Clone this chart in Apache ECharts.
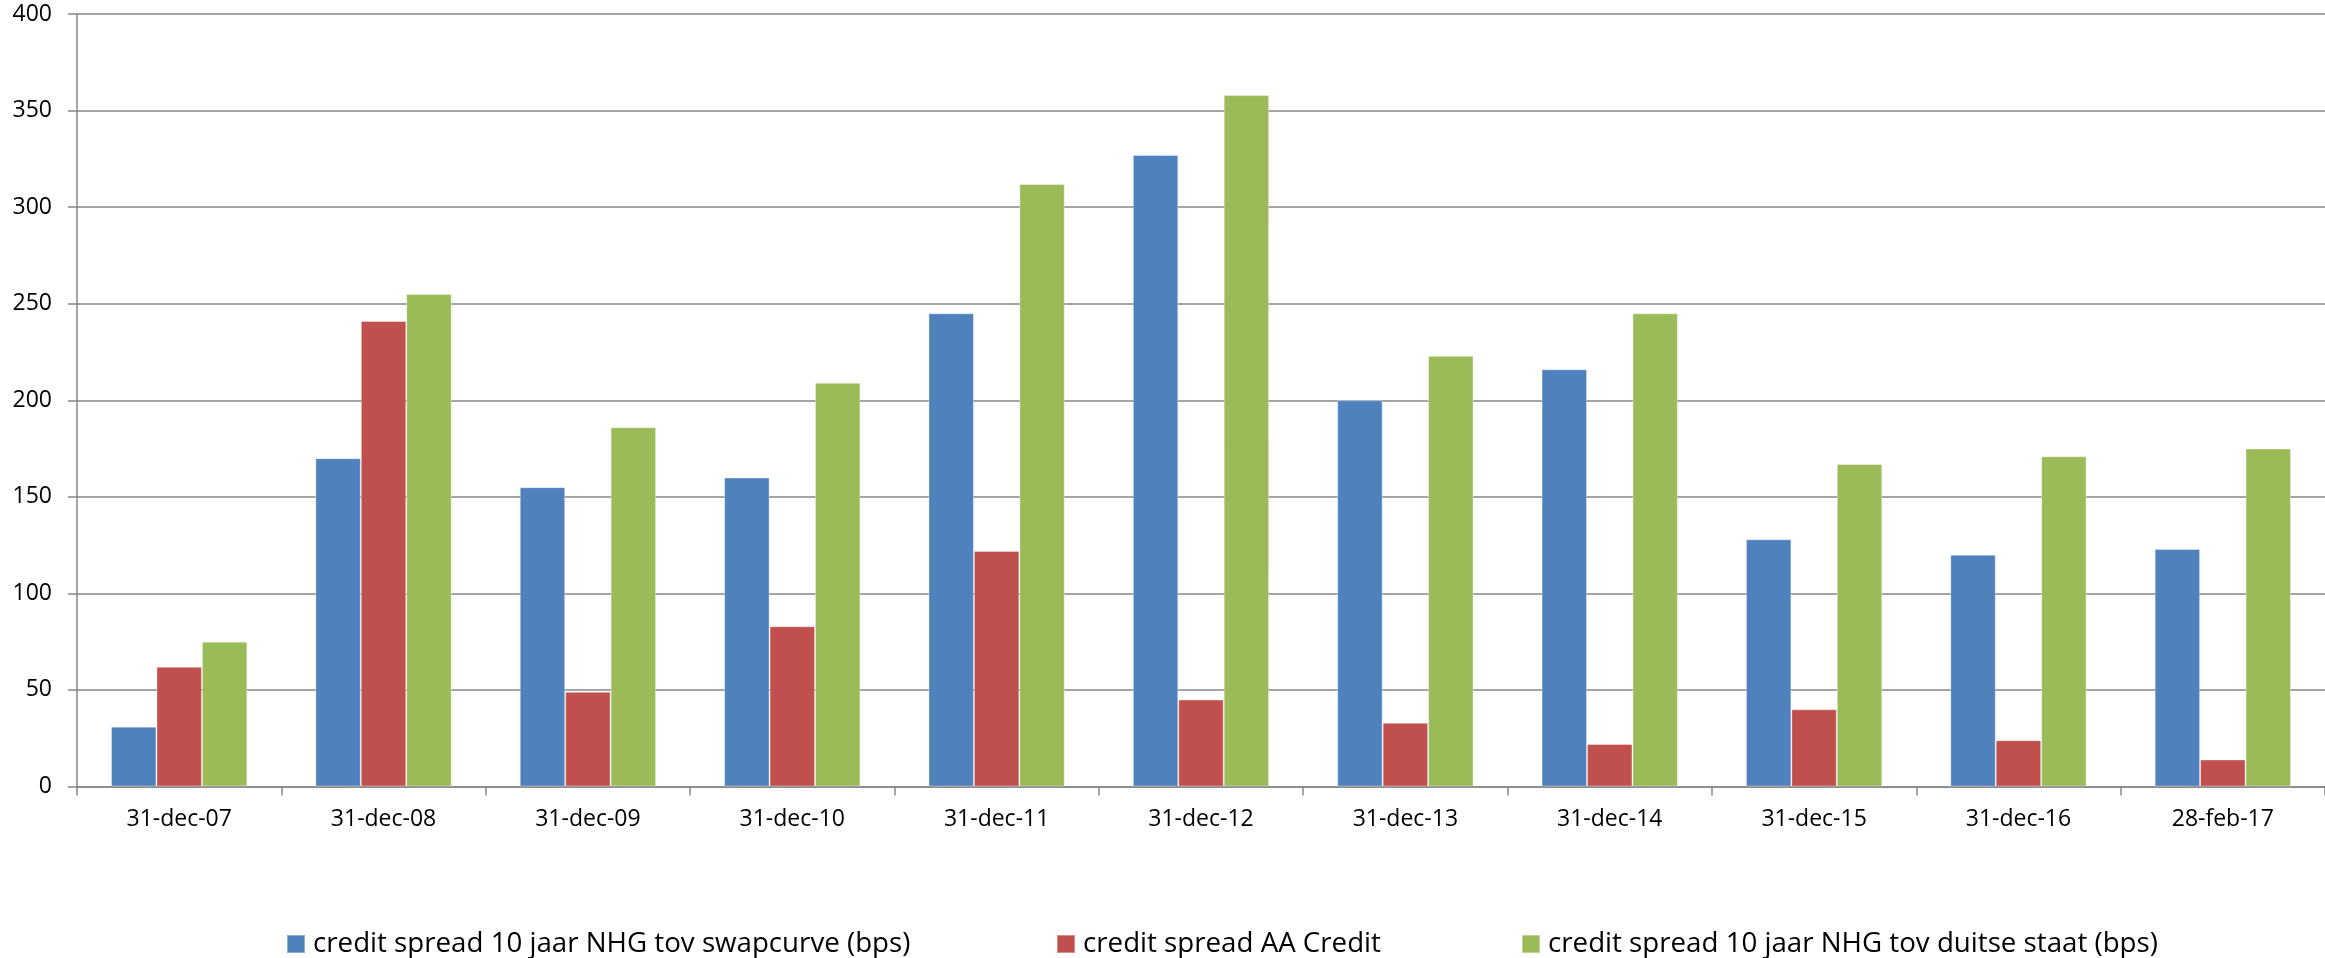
<!DOCTYPE html>
<html>
<head>
<meta charset="utf-8">
<title>Credit spreads</title>
<script src="https://cdn.jsdelivr.net/npm/echarts@6/dist/echarts.min.js"></script>
<style>
  html, body { margin: 0; padding: 0; background: #ffffff; }
  #chart { width: 2325px; height: 958px; }
</style>
</head>
<body>
<div id="chart"></div>
<script>
// Peildata (categorieën)
const categories = ['31-dec-07', '31-dec-08', '31-dec-09', '31-dec-10', '31-dec-11', '31-dec-12',
                    '31-dec-13', '31-dec-14', '31-dec-15', '31-dec-16', '28-feb-17'];

// Reeksnamen
const nameSwap  = 'credit spread 10 jaar NHG tov swapcurve (bps)';
const nameAA    = 'credit spread AA Credit';
const nameDuits = 'credit spread 10 jaar NHG tov duitse staat (bps)';

// Spreads in basispunten
const swapSpread  = [31, 170, 155, 160, 245, 327, 200, 216, 128, 120, 123];
const aaSpread    = [62, 241, 49, 83, 122, 45, 33, 22, 40, 24, 14];
const duitsSpread = [75, 255, 186, 209, 312, 358, 223, 245, 167, 171, 175];

// As-instellingen
const yMin = 0, yMax = 400, yStep = 50;

const FONT = '"Open Sans", "Liberation Sans", sans-serif';
const GRID_GREY = '#868686';

const chart = echarts.init(document.getElementById('chart'), null, { renderer: 'canvas' });

function barSeries(name, data, color) {
  return {
    name: name,
    type: 'bar',
    data: data,
    barGap: '0%',
    barCategoryGap: '33.3%',
    itemStyle: { color: color, borderColor: 'rgba(255,255,255,0.35)', borderWidth: 1 },
    emphasis: { disabled: true }
  };
}

function legendAt(name, left) {
  return {
    data: [name],
    left: left,
    top: 925,
    icon: 'rect',
    itemWidth: 18,
    itemHeight: 18,
    selectedMode: false,
    textStyle: { fontFamily: FONT, fontSize: 27.7, color: '#000', padding: [0, 0, 0, 3] }
  };
}

chart.setOption({
  animation: false,
  backgroundColor: '#ffffff',
  color: ['#4F81BD', '#C0504D', '#9BBB59'],
  grid: { left: 77, right: 0, top: 14, bottom: 171.5, containLabel: false },
  legend: [
    legendAt(nameSwap, 281),
    legendAt(nameAA, 1051),
    legendAt(nameDuits, 1516)
  ],
  xAxis: {
    type: 'category',
    data: categories,
    boundaryGap: true,
    axisLine: { show: true, lineStyle: { color: GRID_GREY, width: 1.5 } },
    axisTick: { show: true, length: 9, lineStyle: { color: GRID_GREY, width: 1.5 } },
    axisLabel: { fontFamily: FONT, fontSize: 23, color: '#000', margin: 21, interval: 0 },
    splitLine: { show: false }
  },
  yAxis: {
    type: 'value',
    min: yMin,
    max: yMax,
    interval: yStep,
    axisLine: { show: true, lineStyle: { color: GRID_GREY, width: 1.5 } },
    axisTick: { show: true, length: 9, lineStyle: { color: GRID_GREY, width: 1.5 } },
    axisLabel: { fontFamily: FONT, fontSize: 23, color: '#000', margin: 25 },
    splitLine: { show: true, lineStyle: { color: GRID_GREY, width: 1.5 } }
  },
  series: [
    barSeries(nameSwap, swapSpread, '#4F81BD'),
    barSeries(nameAA, aaSpread, '#C0504D'),
    barSeries(nameDuits, duitsSpread, '#9BBB59')
  ]
});
</script>
</body>
</html>
